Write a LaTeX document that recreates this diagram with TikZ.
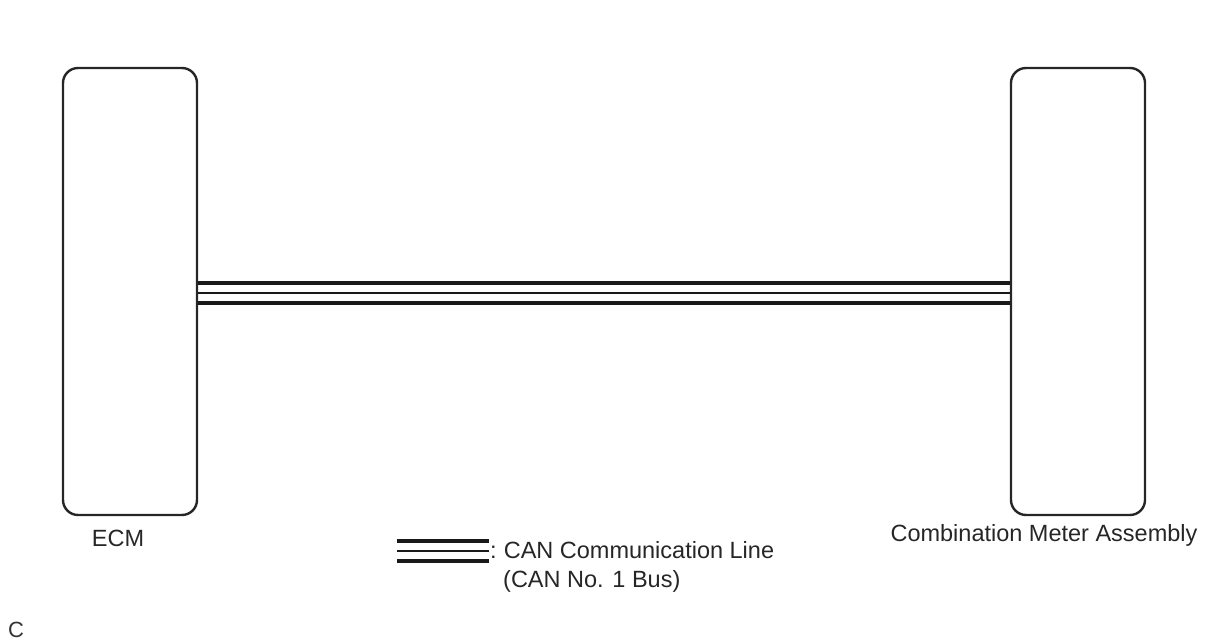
\documentclass[tikz,border=0pt]{standalone}
\usepackage{fontspec}
\setmainfont{Liberation Sans}
\usetikzlibrary{calc}
\begin{document}
\begin{tikzpicture}[x=1pt,y=-1pt,
  unit/.style={draw=black!85,line width=2.4pt,rounded corners=15pt,minimum width=134pt,minimum height=447pt,inner sep=0pt},
  lbl/.style={font=\fontsize{23.5}{28}\selectfont,inner sep=0pt,text=black!85},
  busthick/.style={line width=3.2pt,draw=black!90},
  busthin/.style={line width=2pt,draw=black!90}]
\useasboundingbox (0,0) rectangle (1208,644);
\node[unit] (ecm) at (130,291.5) {};
\node[unit] (cma) at (1078,291.5) {};
\draw[busthick] (ecm.east |- 0,283) -- (cma.west |- 0,283);
\draw[busthin] (ecm.east |- 0,293) -- (cma.west |- 0,293);
\draw[busthick] (ecm.east |- 0,303) -- (cma.west |- 0,303);
\node[lbl,anchor=base] (ecmlbl) at (118,546) {ECM};
\node[lbl,anchor=base] (cmalbl) at (1044,541) {Combination Meter Assembly};
\coordinate (lg1) at (397,541);
\coordinate (lg2) at (489,541);
\draw[busthick] (lg1) -- (lg2);
\draw[busthin] ($(lg1)+(0,10)$) -- ($(lg2)+(0,10)$);
\draw[busthick] ($(lg1)+(0,20)$) -- ($(lg2)+(0,20)$);
\node[lbl,anchor=base west] (leg1) at (490,558) {:\hspace{0.3em}CAN Communication Line};
\node[lbl,anchor=base west] (leg2) at (503,587) {(CAN No. 1 Bus)};
\node[font=\fontsize{22}{26}\selectfont,inner sep=0pt,anchor=base west,text=black!80] (c) at (8,637) {C};
\end{tikzpicture}
\end{document}
